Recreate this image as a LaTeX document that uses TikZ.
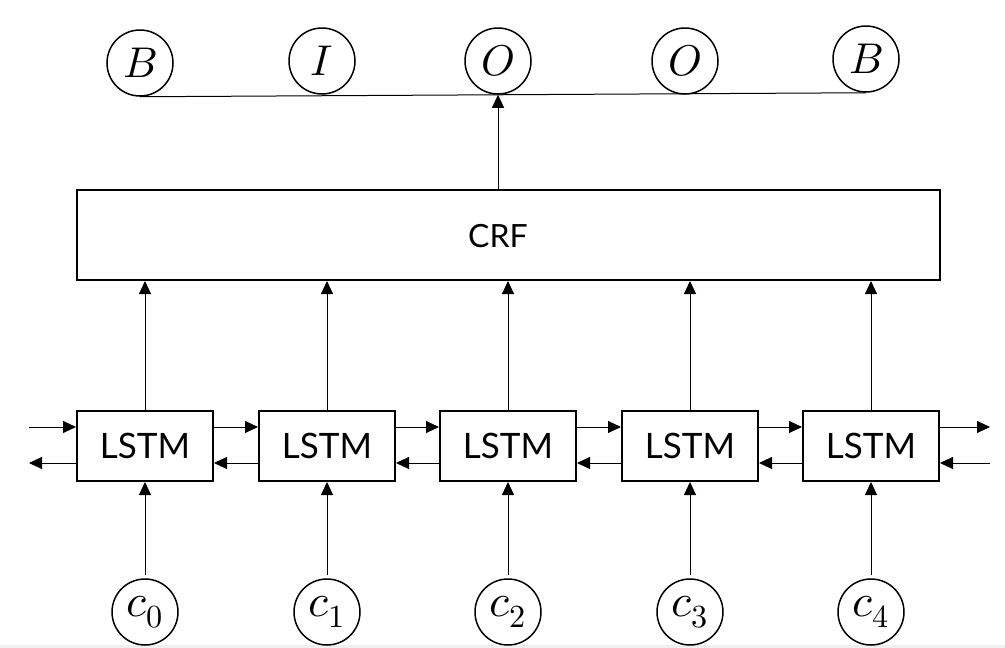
\documentclass[tikz,border=0pt]{standalone}
\usepackage{fontspec}
\usepackage{unicode-math}
\setmathfont{Latin Modern Math}
\newfontfamily\labelfont{Lato}
\usetikzlibrary{arrows.meta}
\begin{document}
\begin{tikzpicture}[x=1pt,y=-1pt,
  tag/.style={circle,draw,line width=1.5pt,minimum size=66pt,inner sep=0pt,font=\fontsize{43}{50}\selectfont},
  ctag/.style={circle,draw,line width=1.5pt,minimum size=66pt,inner sep=0pt,font=\fontsize{46}{54}\selectfont},
  lstmbox/.style={rectangle,draw,line width=2pt,minimum width=136pt,minimum height=70pt,inner sep=0pt,font=\labelfont\fontsize{35}{42}\selectfont},
  crfbox/.style={rectangle,draw,line width=2pt,minimum width=863pt,minimum height=90pt,inner sep=0pt},
  crflabel/.style={font=\labelfont\fontsize{32}{38}\selectfont},
  conn/.style={line width=1pt,-{Triangle[length=13pt,width=12pt]}},
  plain/.style={line width=1pt}]
\useasboundingbox (0,0) rectangle (1005,648);
\fill[black!6] (0,645) rectangle (1005,648);
% top tags
\node[tag] (t1) at (140,63) {$B$};
\node[tag] (t2) at (322,61) {$I$};
\node[tag] (t3) at (498,61) {$O$};
\node[tag] (t4) at (685,61) {$O$};
\node[tag] (t5) at (866,59) {$B$};
% CRF
\node[crfbox] (crf) at (508.5,235) {};
\node[crflabel] (crft) at (498,236) {CRF};
% LSTM boxes
\node[lstmbox] (l1) at (145,446) {LSTM};
\node[lstmbox] (l2) at (327,446) {LSTM};
\node[lstmbox] (l3) at (508,446) {LSTM};
\node[lstmbox] (l4) at (690,446) {LSTM};
\node[lstmbox] (l5) at (871,446) {LSTM};
% inputs
\node[ctag] (c0) at (145,612) {$c_0$};
\node[ctag] (c1) at (327,612) {$c_1$};
\node[ctag] (c2) at (508,612) {$c_2$};
\node[ctag] (c3) at (690,612) {$c_3$};
\node[ctag] (c4) at (871,612) {$c_4$};
% outer ends
\coordinate (lf) at (29,427);
\coordinate (lb) at (29,463);
\coordinate (rf) at (990,427);
\coordinate (rb) at (990,463);
% top connections
\draw[plain] (t1.south) -- (t5.south);
\draw[conn] (crf.north -| t3) -- (t3.south);
% LSTM to CRF
\foreach \i in {1,...,5} {
  \draw[conn] (l\i.north) -- (l\i.north |- crf.south);
}
% inputs to LSTM
\foreach \i [evaluate=\i as \j using int(\i+1)] in {0,...,4} {
  \draw[conn,shorten <=3pt] (c\i.north) -- (l\j.south);
}
% horizontal chains
\foreach \i [evaluate=\i as \j using int(\i+1)] in {1,...,4} {
  \draw[conn] ([yshift=19pt]l\i.east) -- ([yshift=19pt]l\j.west);
  \draw[conn] ([yshift=-17pt]l\j.west) -- ([yshift=-17pt]l\i.east);
}
\draw[conn] (lf) -- ([yshift=19pt]l1.west);
\draw[conn] ([yshift=-17pt]l1.west) -- (lb);
\draw[conn] ([yshift=19pt]l5.east) -- (rf);
\draw[conn] (rb) -- ([yshift=-17pt]l5.east);
\end{tikzpicture}
\end{document}
